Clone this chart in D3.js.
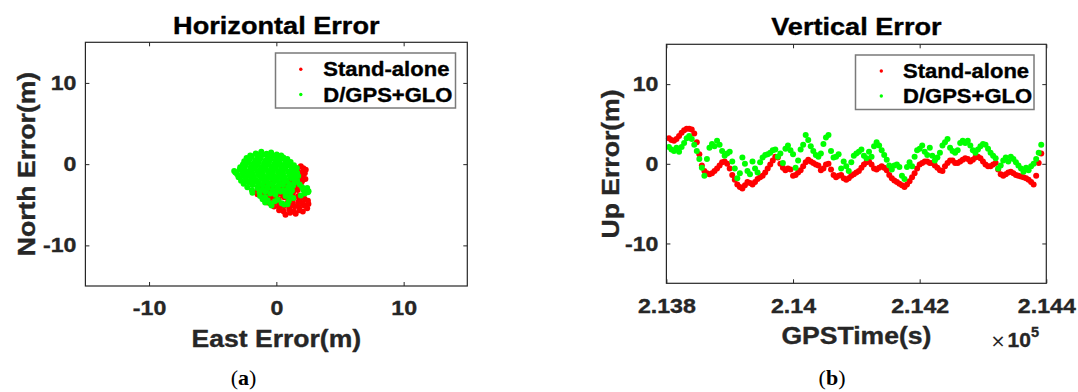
<!DOCTYPE html>
<html>
<head>
<meta charset="utf-8">
<script src="https://cdn.jsdelivr.net/npm/d3@7"></script>
<style>
  html, body { margin: 0; padding: 0; background: #fff; }
  svg { display: block; font-family: "Liberation Sans", Arial, Helvetica, sans-serif; }
</style>
</head>
<body>
<script>
// ---------- Horizontal error: East / North offsets (m) ----------
const standAloneEN = [
  [1.92,-0.27],[2.12,-0.52],[1.68,-0.83],[2.08,-0.93],[2.31,-0.68],[1.52,-1.18],[1.88,-1.33],[2.23,-1.12],
  [1.18,-1.63],[1.62,-1.72],[2.03,-1.58],[2.28,-1.83],[0.78,-2.02],[1.22,-2.13],[1.58,-1.97],[2.02,-2.12],
  [0.32,-2.38],[0.68,-2.52],[1.12,-2.37],[1.48,-2.53],[1.92,-2.42],[0.48,-0.88],[0.22,-1.42],[-0.32,-1.88],[-0.78,-2.42],
  [-1.22,-2.78],[-0.78,-2.93],[-0.38,-2.77],[0.02,-2.92],[0.42,-2.78],[0.78,-2.93],[1.22,-3.02],[1.62,-2.78],
  [-1.52,-3.32],[-1.08,-3.17],[-0.72,-3.33],[-0.28,-3.18],[0.12,-3.32],[0.48,-3.17],[0.92,-3.33],[1.32,-3.42],[1.68,-3.18],
  [-1.48,-3.72],[-1.12,-3.83],[-0.68,-3.68],[-0.32,-3.82],[0.08,-3.68],[0.52,-3.83],[0.88,-3.67],[1.28,-3.82],[1.72,-3.93],[2.12,-4.02],
  [-1.02,-4.18],[-0.58,-4.33],[-0.22,-4.17],[0.18,-4.32],[0.62,-4.08],[1.02,-4.32],[1.38,-4.17],[1.82,-4.42],[2.22,-4.28],[2.48,-4.52],
  [-0.68,-4.72],[-0.32,-4.83],[0.12,-4.68],[0.48,-4.92],[0.92,-4.67],[1.28,-4.82],[1.72,-4.68],[2.08,-4.83],[2.52,-4.92],
  [-0.18,-5.22],[0.22,-5.32],[0.58,-5.18],[1.02,-5.33],[1.42,-5.17],[1.78,-5.32],[2.18,-5.08],[2.42,-5.42],
  [0.22,-5.68],[0.58,-5.82],[1.02,-5.58],[1.38,-5.83],[1.82,-5.68],[2.08,-5.82],
  [0.72,-6.22],[1.08,-5.98],[1.52,-6.12]
];
const dgpsGloEN = [
  [-2.05,1.05],[-1.62,1.32],[-1.18,1.52],[-0.77,1.28],[-0.41,1.43],[0.03,1.18],[0.38,1.06],[-1.35,1.2],
  [-2.34,0.76],[-1.93,0.98],[-1.46,0.87],[-1.07,1.12],[-0.68,0.93],[-0.27,1.04],[0.12,0.84],[0.55,0.82],[0.86,0.64],
  [-2.52,0.37],[-2.08,0.62],[-1.66,0.47],[-1.27,0.63],[-0.86,0.44],[-0.47,0.58],[-0.06,0.47],[0.34,0.62],[0.72,0.36],[1.12,0.27],
  [-2.63,-0.03],[-2.17,0.22],[-1.79,0.06],[-1.38,0.24],[-0.97,0.07],[-0.58,0.19],[-0.17,0.03],[0.24,0.17],[0.63,-0.04],[1.03,0.12],[1.38,-0.13],
  [-2.84,-0.38],[-2.42,-0.17],[-2.01,-0.34],[-1.57,-0.21],[-1.19,-0.36],[-0.77,-0.18],[-0.38,-0.33],[0.04,-0.16],[0.42,-0.31],[0.83,-0.19],[1.22,-0.42],[1.61,-0.47],
  [-3.31,-0.83],[-2.87,-0.66],[-2.48,-0.62],[-2.07,-0.74],[-1.68,-0.57],[-1.27,-0.72],[-0.88,-0.61],[-0.47,-0.74],[-0.08,-0.57],[0.33,-0.73],[0.72,-0.58],[1.13,-0.81],[1.52,-0.69],
  [-3.22,-1.02],[-3.08,-1.24],[-2.66,-1.08],[-2.27,-0.97],[-1.88,-1.13],[-1.47,-0.98],[-1.08,-1.14],[-0.66,-0.96],[-0.28,-1.12],[0.13,-0.97],[0.52,-1.13],[0.93,-0.98],[1.32,-1.21],[1.63,-1.07],
  [-2.97,-1.62],[-2.58,-1.47],[-2.18,-1.38],[-1.77,-1.53],[-1.38,-1.37],[-0.97,-1.52],[-0.58,-1.36],[-0.17,-1.53],[0.23,-1.38],[0.62,-1.54],[1.03,-1.37],[1.42,-1.63],[1.72,-1.46],
  [-2.77,-2.03],[-2.38,-1.87],[-1.97,-1.78],[-1.58,-1.94],[-1.17,-1.77],[-0.78,-1.93],[-0.37,-1.76],[0.03,-1.92],[0.43,-1.77],[0.82,-1.94],[1.23,-1.78],[1.63,-2.03],
  [-2.57,-2.42],[-2.18,-2.27],[-1.77,-2.18],[-1.38,-2.33],[-0.97,-2.17],[-0.58,-2.34],[-0.17,-2.16],[0.22,-2.33],[0.63,-2.17],[1.02,-2.43],[1.43,-2.27],[1.83,-2.52],
  [-2.28,-2.83],[-1.88,-2.57],[-1.47,-2.73],[-1.08,-2.58],[-0.68,-2.74],[-0.28,-2.57],[0.13,-2.73],[0.52,-2.58],[0.93,-2.82],[1.32,-2.67],[2.03,-2.83],[2.42,-2.93],
  [-1.92,-3.22],[-1.48,-2.98],[-1.08,-3.13],[-0.68,-2.97],[-0.27,-3.14],[0.12,-2.98],[0.53,-3.22],[0.92,-3.07],[1.23,-3.24],[2.12,-3.18],[2.53,-3.34],
  [-1.88,-3.53],[-1.32,-3.48],[-0.87,-3.37],[-0.48,-3.62],[-0.08,-3.47],[0.33,-3.38],[0.72,-3.63],[1.12,-3.48],[2.23,-3.62],[2.48,-3.47],
  [-1.28,-3.93],[-0.88,-4.03],[-0.07,-3.78],[0.73,-3.92],[1.12,-4.04],[1.92,-3.87],
  [-1.08,-4.32],[-0.68,-4.43],[0.12,-4.38],[0.98,-4.53],[1.33,-4.18],
  [-0.88,-4.72],[-0.47,-4.83],[-0.12,-4.58],[0.42,-4.82],[0.88,-4.93],
  [-0.38,-5.08],[0.62,-4.98]
];
const enTicks = [-10, 0, 10];
const enTickLabels = ["-10", "0", "10"];

// ---------- Vertical error over GPS time (4 s epochs) ----------
const gpsTime = [
  213804,213808,213812,213816,213820,213824,213828,213832,213836,213840,
  213844,213848,213852,213856,213860,213864,213868,213872,213876,213880,
  213884,213888,213892,213896,213900,213904,213908,213912,213916,213920,
  213924,213928,213932,213936,213940,213944,213948,213952,213956,213960,
  213964,213968,213972,213976,213980,213984,213988,213992,213996,214000,
  214004,214008,214012,214016,214020,214024,214028,214032,214036,214040,
  214044,214048,214052,214056,214060,214064,214068,214072,214076,214080,
  214084,214088,214092,214096,214100,214104,214108,214112,214116,214120,
  214124,214128,214132,214136,214140,214144,214148,214152,214156,214160,
  214164,214168,214172,214176,214180,214184,214188,214192,214196,214200,
  214204,214208,214212,214216,214220,214224,214228,214232,214236,214240,
  214244,214248,214252,214256,214260,214264,214268,214272,214276,214280,
  214284,214288,214292,214296,214300,214304,214308,214312,214316,214320,
  214324,214328,214332,214336,214340,214344,214348,214352,214356,214360,
  214364,214368,214372,214376,214380,214384,214388,214392
];
const standAloneUp = [
  3.2,3.0,2.9,3.1,3.5,3.9,4.2,4.4,4.4,4.3,
  3.8,2.7,1.2,-0.2,-0.9,-1.2,-1.3,-1.2,-0.9,-0.6,
  -0.2,0.2,0.3,0.0,-0.6,-1.4,-2.0,-2.6,-2.9,-3.1,
  -2.7,-2.3,-2.4,-2.6,-2.3,-1.9,-1.7,-1.5,-1.1,-0.6,
  -0.1,0.4,0.9,0.8,0.0,-0.5,-0.8,-0.6,-0.7,-1.5,
  -1.4,-1.1,-0.8,-0.3,0.2,0.5,0.3,0.1,-0.1,-0.2,
  -0.8,-0.6,-0.1,0.0,-0.7,-1.4,-1.7,-1.5,-1.4,-1.8,
  -2.0,-1.8,-1.5,-1.3,-1.1,-0.9,-0.5,-0.1,0.2,0.3,
  -0.1,-0.6,-0.7,-0.5,-0.3,-0.5,-0.8,-1.4,-1.8,-2.1,
  -2.3,-2.5,-2.7,-2.9,-2.6,-2.2,-1.7,-1.2,-0.6,-0.1,
  0.1,0.3,0.3,0.1,0.1,-0.2,-0.5,-0.8,-0.9,-0.3,
  0.1,0.4,0.4,0.1,0.1,0.3,0.5,0.7,0.6,0.3,
  0.5,0.8,0.9,0.7,0.3,-0.1,-0.3,-0.3,-0.1,0.1,
  -0.7,-1.3,-1.5,-1.3,-1.1,-1.0,-1.2,-1.4,-1.5,-1.6,
  -1.7,-1.8,-2.0,-2.3,-2.6,-1.5,0.1,1.3
];
const dgpsGloUp = [
  2.1,1.8,1.6,2.0,1.5,2.1,2.6,3.2,3.5,3.1,
  2.4,1.6,0.6,-0.5,-1.5,0.6,2.0,2.5,2.2,2.9,
  2.4,1.6,1.0,1.3,1.5,0.3,-0.6,-1.8,-1.2,0.8,
  0.0,-0.9,-1.3,0.3,-0.6,-1.1,0.2,0.8,1.1,1.2,
  1.4,1.7,1.8,0.9,1.3,0.1,1.9,2.3,1.7,1.2,
  -0.5,0.4,1.8,2.4,3.6,3.0,2.2,1.6,1.1,0.9,
  1.3,2.5,3.3,3.6,1.6,0.8,0.9,1.2,-0.6,0.3,
  -0.3,-0.9,0.2,1.0,1.3,1.5,1.8,1.0,0.7,1.5,
  0.9,2.2,2.7,2.3,1.7,1.1,0.5,-0.2,-0.7,-0.2,
  -0.1,-0.4,-1.5,-1.9,-0.4,0.2,-0.3,0.9,1.7,1.9,
  2.3,1.5,1.1,2.0,1.0,0.4,0.8,1.4,2.3,2.7,
  3.1,2.0,1.6,1.4,1.7,2.6,2.9,2.6,2.9,2.3,
  1.7,1.4,1.8,2.2,2.5,2.4,1.9,1.4,1.0,0.7,
  -0.6,-0.2,0.4,0.8,0.3,0.9,0.6,0.2,-0.2,-0.6,
  -1.0,-0.5,-0.8,-0.3,0.0,0.6,1.4,2.4
];
const timeTicks = [213800, 214000, 214200, 214400];
const timeTickLabels = ["2.138", "2.14", "2.142", "2.144"];
const upTicks = [-10, 0, 10];
const upTickLabels = ["-10", "0", "10"];

const seriesNames = ["Stand-alone", "D/GPS+GLO"];
const seriesColors = ["#ff0000", "#00ff00"];

// ---------- drawing ----------
const W = 1078, H = 392;
const INK = "#262626";
const WIDEN = 1.13;     // the export font runs wider than Arial at the same height
const DOT = 3;

const svg = d3.select("body").append("svg")
  .attr("width", W).attr("height", H)
  .attr("viewBox", `0 0 ${W} ${H}`);

function widen(sel) {
  sel.each(function () {
    const len = this.getComputedTextLength();
    d3.select(this).attr("textLength", len * WIDEN).attr("lengthAdjust", "spacingAndGlyphs");
  });
}
function heavy(sel, color) {
  sel.attr("stroke", color).attr("stroke-width", 0.35).attr("stroke-linejoin", "round");
}

function frame(x, y, xt, xl, yt, yl, xPad, yPad) {
  const [x0, x1] = x.range();
  const [y0, y1] = y.range();   // y0 bottom, y1 top
  const g = svg.append("g");
  const styleAxis = a => {
    a.select(".domain").remove();
    a.selectAll(".tick line").attr("stroke", INK).attr("stroke-width", 1);
    const t = a.selectAll(".tick text")
      .attr("fill", INK).attr("font-size", 20.5).attr("font-weight", "bold")
      .attr("font-family", "'Liberation Sans', Arial, sans-serif");
    heavy(t, INK);
  };
  const bottom = g.append("g").attr("transform", `translate(0,${y0})`)
    .call(d3.axisBottom(x).tickValues(xt).tickFormat((d, i) => xl[i])
      .tickSizeInner(-4).tickSizeOuter(0).tickPadding(xPad));
  styleAxis(bottom);
  widen(bottom.selectAll(".tick text"));
  const top = g.append("g").attr("transform", `translate(0,${y1})`)
    .call(d3.axisTop(x).tickValues(xt).tickFormat("").tickSizeInner(-4).tickSizeOuter(0));
  styleAxis(top);
  const left = g.append("g").attr("transform", `translate(${x0},0)`)
    .call(d3.axisLeft(y).tickValues(yt).tickFormat((d, i) => yl[i])
      .tickSizeInner(-4).tickSizeOuter(0).tickPadding(yPad));
  styleAxis(left);
  widen(left.selectAll(".tick text"));
  const right = g.append("g").attr("transform", `translate(${x1},0)`)
    .call(d3.axisRight(y).tickValues(yt).tickFormat("").tickSizeInner(-4).tickSizeOuter(0));
  styleAxis(right);
  g.append("rect")
    .attr("x", x0).attr("y", y1).attr("width", x1 - x0).attr("height", y0 - y1)
    .attr("fill", "none").attr("stroke", INK).attr("stroke-width", 1.2);
}

function label(x, y, txt, size, fill, rotate) {
  const t = svg.append("text")
    .attr("x", 0).attr("y", 0)
    .attr("transform", `translate(${x},${y})` + (rotate ? " rotate(-90)" : ""))
    .attr("text-anchor", "middle")
    .attr("font-size", size).attr("font-weight", "bold").attr("fill", fill)
    .text(txt);
  heavy(t, fill);
  widen(t);
  return t;
}

function legend(bx, by, bw, bh, dotX, rowY, textX) {
  const g = svg.append("g");
  g.append("rect").attr("x", bx).attr("y", by).attr("width", bw).attr("height", bh)
    .attr("fill", "#fff").attr("stroke", "#7a7a7a").attr("stroke-width", 1.5);
  seriesNames.forEach((name, i) => {
    g.append("circle").attr("cx", dotX).attr("cy", rowY[i] - 7).attr("r", 1.7)
      .attr("fill", seriesColors[i]);
    const t = g.append("text").attr("x", textX).attr("y", rowY[i])
      .attr("font-size", 19.5).attr("font-weight", "bold").attr("fill", "#000")
      .text(name);
    heavy(t, "#000");
    widen(t);
  });
}

// ----- (a) Horizontal Error -----
const xA = d3.scaleLinear().domain([-15, 15]).range([85.4, 467.3]);
const yA = d3.scaleLinear().domain([-15, 15]).range([286, 42.3]);

const scatterA = svg.append("g");
[standAloneEN, dgpsGloEN].forEach((pts, i) => {
  scatterA.append("g").selectAll("circle").data(pts).join("circle")
    .attr("cx", d => xA(d[0])).attr("cy", d => yA(d[1])).attr("r", DOT)
    .attr("fill", seriesColors[i]);
});
frame(xA, yA, enTicks, enTickLabels, enTicks, enTickLabels, 14, 9);
label(276.3, 33.5, "Horizontal Error", 24, "#000");
label(276.3, 347, "East Error(m)", 23.5, INK);
label(34.5, 164, "North Error(m)", 23.5, INK, true);
legend(275.5, 53, 180, 55, 300.8, [76.3, 101.5], 323.3);

// ----- (b) Vertical Error -----
const xB = d3.scaleLinear().domain([213800, 214400]).range([666.4, 1046.3]);
const yB = d3.scaleLinear().domain([-15, 15]).range([283.3, 44.3]);

const scatterB = svg.append("g");
[standAloneUp, dgpsGloUp].forEach((vals, i) => {
  scatterB.append("g").selectAll("circle").data(vals).join("circle")
    .attr("cx", (d, k) => xB(gpsTime[k])).attr("cy", d => yB(d)).attr("r", DOT)
    .attr("fill", seriesColors[i]);
});
frame(xB, yB, timeTicks, timeTickLabels, upTicks, upTickLabels, 15, 8);
label(856.4, 35.3, "Vertical Error", 24, "#000");
label(856.4, 343.5, "GPSTime(s)", 23.5, INK);
label(619, 164, "Up Error(m)", 23.5, INK, true);
legend(855.5, 55, 178.5, 54.5, 881.3, [78, 103], 903);

// axis exponent
const expo = svg.append("text").attr("x", 990.5).attr("y", 347)
  .attr("fill", INK).attr("font-size", 21);
expo.append("tspan").attr("font-weight", "normal").attr("font-family", "'DejaVu Sans', sans-serif")
  .attr("font-size", 18).text("\u00d7");
expo.append("tspan").attr("font-weight", "bold").attr("dx", 2).attr("stroke", INK).attr("stroke-width", 0.35).text("10");
expo.append("tspan").attr("font-weight", "bold").attr("font-size", 14.5).attr("dy", -10)
  .attr("stroke", INK).attr("stroke-width", 0.3).text("5");

// panel captions
[["a", 243.6], ["b", 832]].forEach(([c, cx]) => {
  const t = svg.append("text").attr("x", cx).attr("y", 385)
    .attr("text-anchor", "middle").attr("fill", "#000")
    .attr("font-family", "'Liberation Serif', 'Times New Roman', serif").attr("font-size", 22);
  t.append("tspan").text("(");
  t.append("tspan").attr("font-weight", "bold").text(c);
  t.append("tspan").text(")");
});
</script>
</body>
</html>
